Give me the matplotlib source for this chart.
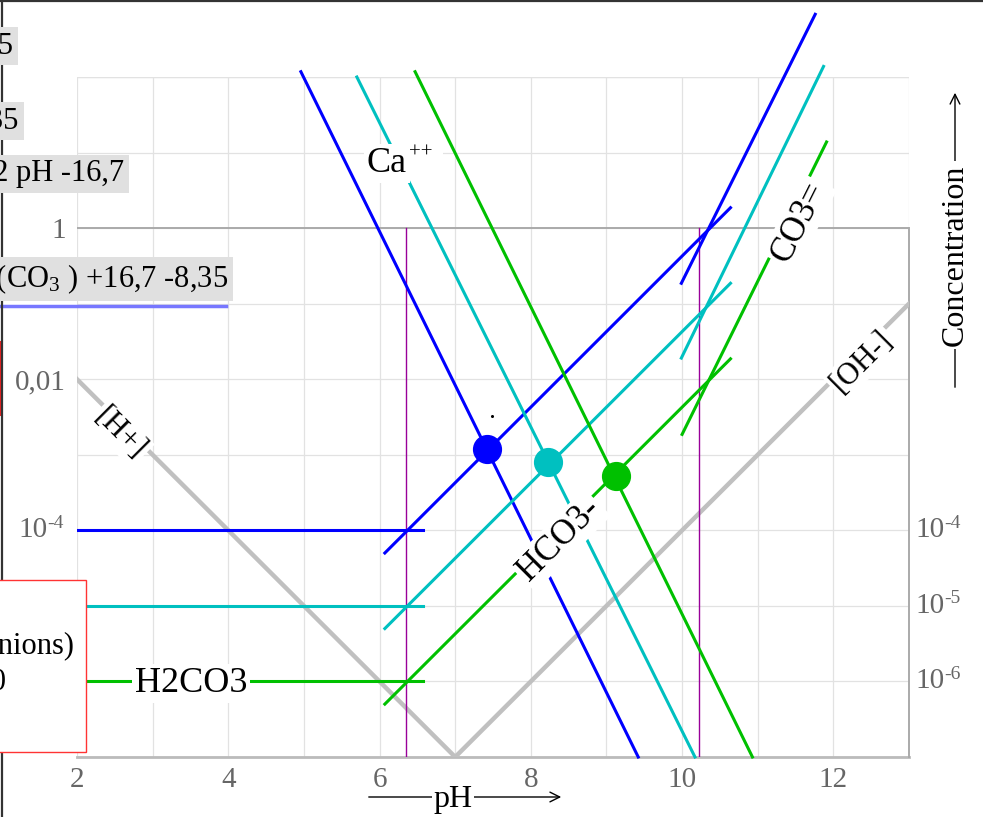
import numpy as np
import matplotlib
matplotlib.use("Agg")
import matplotlib.pyplot as plt
import matplotlib.transforms as mtrans
from matplotlib.patches import Rectangle, FancyArrowPatch
from matplotlib.lines import Line2D

plt.rcParams['font.family'] = ['Liberation Serif', 'DejaVu Serif']
plt.rcParams['mathtext.fontset'] = 'custom'
plt.rcParams['mathtext.rm'] = 'Liberation Serif'
plt.rcParams['mathtext.it'] = 'Liberation Serif:italic'
plt.rcParams['mathtext.bf'] = 'Liberation Serif:bold'

W, H, DPI = 983, 817, 100

# ---------------- data ----------------
ph_range = [2, 13]
conc_range = [1e-7, 1e2]

x_grid = list(range(2, 14))
x_tick_labels = ['2', '', '4', '', '6', '', '8', '', '10', '', '12', '']
y_grid_exp = list(range(-7, 3))
left_y_ticks = [1, 1e-2]
left_y_labels = ['1', '0,01']
left_pow_ticks = [1e-4]
left_pow_exps = ['-4']
right_pow_ticks = [1e-4, 1e-5, 1e-6]
right_pow_exps = ['-4', '-5', '-6']

h_ion_ph = [2, 7]
h_ion_conc = [1e-2, 1e-7]
oh_ion_ph = [7, 13]
oh_ion_conc = [1e-7, 1e-1]

pka_ph = [6.35, 10.22]

series_colors = ['#0000ff', '#00c0c0', '#00c000']
h2co3_ph = [2.0, 6.57]
h2co3_log = [-4.0, -5.0, -6.0]
hco3_ph = [6.07, 10.64]
hco3_log = [[-4.30, 0.27], [-5.30, -0.73], [-6.30, -1.73]]
co3_ph = [[9.99, 11.76], [9.99, 11.87], [10.0, 11.91]]
co3_log = [[-0.73, 2.83], [-1.72, 2.14], [-2.73, 1.14]]
ca_ph = [[4.96, 9.42], [5.70, 10.17], [6.47, 10.93]]
ca_log = [[2.07, -7.0], [2.0, -7.0], [2.07, -7.0]]
eq_ph = [7.42, 8.23, 9.12]
eq_log = [-2.92, -3.10, -3.28]

# ---------------- figure ----------------
fig = plt.figure(figsize=(W / DPI, H / DPI), dpi=DPI)
ax = fig.add_axes([77 / W, (H - 757) / H, 832 / W, 680 / H])
ax.set_yscale('log')
ax.set_xlim(*ph_range)
ax.set_ylim(*conc_range)
for s in ax.spines.values():
    s.set_visible(False)

def F(x, y):
    return (x / W, 1 - y / H)

grid_c = '#e2e2e2'
for xv in x_grid:
    ax.axvline(xv, color=grid_c, lw=0.9, zorder=0)
for e in y_grid_exp:
    ax.axhline(10.0 ** e, color=grid_c, lw=0.9, zorder=0)
ax.axhline(1e2, color=grid_c, lw=0.9, zorder=0)
dark = '#aaaaaa'
ax.plot(ph_range, [1, 1], color=dark, lw=1.4, zorder=1)
ax.plot(ph_range, [1e-7, 1e-7], color='#bbbbbb', lw=2.0, zorder=1, clip_on=False)
ax.plot([13, 13], [1e-7, 1], color=dark, lw=1.4, zorder=1, clip_on=False)

# ticks
tick_col = '#666666'
ax.set_xticks(x_grid)
ax.set_xticklabels(x_tick_labels)
ax.set_yticks(left_y_ticks)
ax.set_yticklabels(left_y_labels)
ax.minorticks_off()
ax.tick_params(axis='x', length=0, pad=7, labelsize=21, labelcolor=tick_col)
ax.tick_params(axis='y', length=0, pad=8, labelsize=21, labelcolor=tick_col)

# power-of-ten labels (base + superscript hyphen exponent)
blend = mtrans.blended_transform_factory(fig.transFigure, ax.transData)
def pow_label(xpx, yval, exp):
    t = ax.text(xpx / W, yval, '10', transform=blend, fontsize=21, color=tick_col,
                ha='left', va='center', clip_on=False)
    ax.annotate(exp, xy=(1.0, 0.78), xycoords=t, fontsize=14, color=tick_col,
                ha='left', va='center', annotation_clip=False)
for yv, ex in zip(left_pow_ticks, left_pow_exps):
    pow_label(18, yv, ex)
for yv, ex in zip(right_pow_ticks, right_pow_exps):
    pow_label(915, yv, ex)

# H+ and OH- lines
ax.plot(h_ion_ph, h_ion_conc, color='#c0c0c0', lw=3.2, zorder=2)
ax.plot(oh_ion_ph, oh_ion_conc, color='#c0c0c0', lw=3.2, zorder=2)

# pKa vertical lines
for p in pka_ph:
    ax.plot([p, p], [1, 1e-7], color='#990099', lw=1.0, zorder=2)

# species lines
for i, c in enumerate(series_colors):
    lv = 10.0 ** h2co3_log[i]
    ax.plot(h2co3_ph, [lv, lv], color=c, lw=2.2, zorder=3)
    ax.plot(hco3_ph, 10.0 ** np.array(hco3_log[i]), color=c, lw=2.2, zorder=3)
    ax.plot(co3_ph[i], 10.0 ** np.array(co3_log[i]), color=c, lw=2.2, zorder=3, clip_on=False)
    ax.plot(ca_ph[i], 10.0 ** np.array(ca_log[i]), color=c, lw=2.2, zorder=3, clip_on=False)
    ax.plot([eq_ph[i]], [10.0 ** eq_log[i]], 'o', color=c, ms=20, zorder=4)
ax.plot([7.49], [10 ** -2.49], 'o', color='black', ms=1.2, zorder=4)

# labels on curves
wb = dict(boxstyle='square,pad=0.08', fc='white', ec='none')
tca = ax.text(5.83, 10 ** 0.86, 'Ca', fontsize=26, ha='left', va='center', bbox=wb, zorder=6)
ax.annotate('++', xy=(1.0, 0.80), xycoords=tca, xytext=(1.5, 0), textcoords='offset points',
            fontsize=15, ha='left', va='center', zorder=5.9,
            bbox=dict(boxstyle='square,pad=0.5', fc='white', ec='none'))
ax.text(8.38, 10 ** -4.13, 'HCO3-', fontsize=25, ha='center', va='center', rotation=45,
        rotation_mode='anchor', bbox=wb, zorder=6)
ax.text(11.55, 10 ** 0.08, 'CO3=', fontsize=25, ha='center', va='center', rotation=63.4,
        rotation_mode='anchor', bbox=wb, zorder=6)
ax.text(12.38, 10 ** -1.77, '[OH-]', fontsize=22, ha='center', va='center', rotation=45,
        rotation_mode='anchor', bbox=wb, zorder=6)
ax.text(2.57, 10 ** -2.72, '[H+]', fontsize=22, ha='center', va='center', rotation=-45,
        rotation_mode='anchor', bbox=wb, zorder=6)
ax.text(3.51, 10 ** -6.03, 'H2CO3', fontsize=26, ha='center', va='center', bbox=wb, zorder=6)

# axis titles with arrows
fig.add_artist(FancyArrowPatch(F(366, 797), F(564, 797), arrowstyle='->,head_length=7,head_width=3.5',
                               color='black', lw=1.0, transform=fig.transFigure))
fig.text(*F(453, 800), 'pH', fontsize=23, ha='center', va='center',
         bbox=dict(boxstyle='square,pad=0.05', fc='white', ec='none'))
fig.add_artist(FancyArrowPatch(F(955, 390), F(955, 90), arrowstyle='->,head_length=7,head_width=3.5',
                               color='black', lw=1.0, transform=fig.transFigure))
fig.text(*F(955, 255), 'Concentration', fontsize=23, rotation=90, ha='center', va='center',
         bbox=dict(boxstyle='square,pad=0.1', fc='white', ec='none'))

# partial (clipped) annotation boxes at the left edge
gb = dict(boxstyle='square,pad=0.15', fc='#e0e0e0', ec='none')
fig.text(*F(13, 46), 'x = 5', fontsize=22, ha='right', va='center', bbox=gb)
fig.text(*F(19, 121), '-8,35', fontsize=22, ha='right', va='center', bbox=gb)
fig.text(*F(124, 174), '-2 pH -16,7', fontsize=22, ha='right', va='center', bbox=gb)
fig.text(*F(228, 279), r'log(CO$_3$ ) +16,7 -8,35', fontsize=22, ha='right', va='center', bbox=gb)
fig.add_artist(Line2D([0, 226 / W], [1 - 306 / H] * 2, color='#7777ff', lw=2.5, transform=fig.transFigure))

# partial legend box (red border)
fig.add_artist(Rectangle(F(-20, 752), 106 / W, 172 / H, fc='white', ec='#ff3333', lw=1.0,
                         transform=fig.transFigure, zorder=5))
fig.text(*F(75, 646), '(anions)', fontsize=22, ha='right', va='center', zorder=6)
fig.text(*F(6, 682), '= 0', fontsize=22, ha='right', va='center', zorder=6)
fig.add_artist(Line2D([1 / W, 1 / W], [1 - 342 / H, 1 - 415 / H], color='#ee2222', lw=1.5,
                      transform=fig.transFigure))

# outer black frame (top and left)
fig.add_artist(Line2D([0, 1], [1 - 1 / H] * 2, color='#333333', lw=1.6, transform=fig.transFigure))
fig.add_artist(Line2D([2 / W] * 2, [0, 1], color='#333333', lw=1.6, transform=fig.transFigure))

fig.savefig('out.png', dpi=DPI)
